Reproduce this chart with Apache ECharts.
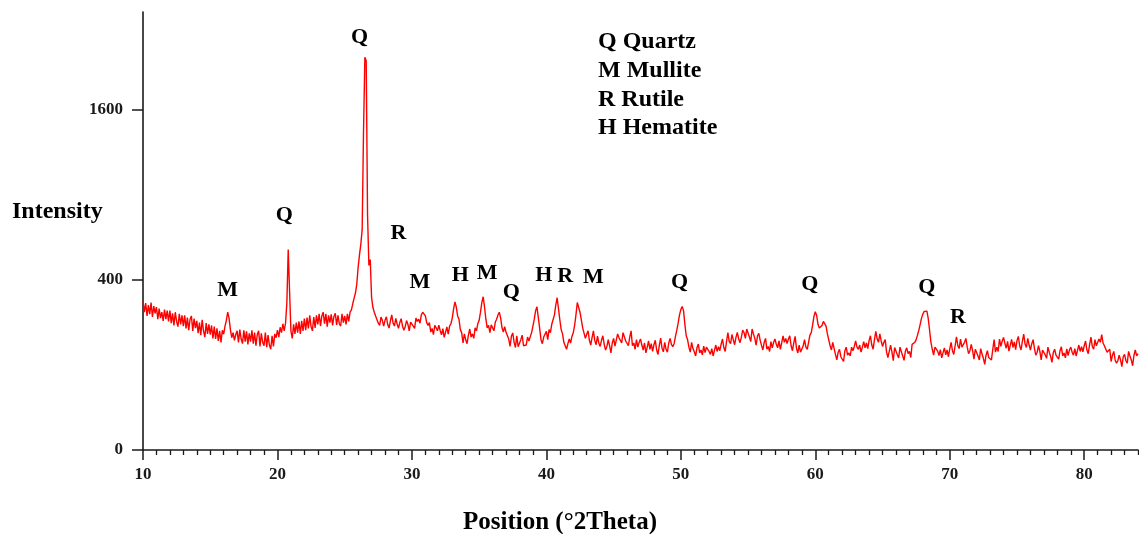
<!DOCTYPE html>
<html><head><meta charset="utf-8">
<script src="https://cdn.jsdelivr.net/npm/echarts@6/dist/echarts.min.js"></script>
<style>html,body{margin:0;padding:0;background:#fff}#c{width:1139px;height:534px}</style>
</head><body><div id="c"></div>
<script>
// XRD scan: start angle and step (degrees 2Theta)
const scanStart = 10.0;
const scanStep = 0.1;
// Intensity counts, one row per degree (10.0 ... 83.9), then 84.0
const counts = [
305,262,298,248,290,255,300,244,286,258,
282,236,276,240,262,230,272,236,268,228,
268,222,258,214,262,228,210,256,218,250,
212,250,204,242,198,236,248,196,238,205,
230,188,224,182,234,196,176,222,186,218,
184,214,172,210,170,204,164,196,160,198,
185,212,232,262,240,200,174,190,166,184,
196,160,200,170,156,198,162,194,154,188,
162,198,156,190,150,184,196,148,188,160,
150,190,146,182,152,140,180,148,186,174,
198,176,208,190,220,196,222,300,554,350,
196,172,218,186,224,190,228,186,230,196,
238,198,242,204,250,210,196,244,206,250,
218,256,212,248,262,220,256,210,250,224,
254,214,246,258,216,250,220,212,256,224,
248,218,256,228,262,271,295,318,340,380,
460,525,585,670,1400,2127,2090,760,470,500,
320,280,262,248,246,222,214,244,232,212,
232,245,217,205,230,252,222,212,239,219,
204,224,238,212,198,210,231,218,196,226,
232,212,204,240,228,236,222,252,262,266,
248,224,214,224,192,204,184,214,206,196,
215,197,183,203,175,191,209,185,212,220,
240,275,303,282,248,236,200,190,158,186,
168,156,182,202,176,186,172,206,196,220,
232,262,300,324,282,236,206,214,190,216,
210,196,226,236,252,262,240,206,192,210,
191,196,170,148,179,189,160,145,180,147,
148,168,182,150,146,152,176,164,160,190,
212,236,268,283,242,204,168,156,176,170,
194,168,200,190,218,222,252,290,320,276,
234,200,186,160,164,140,156,170,158,178,
190,214,252,300,308,262,234,206,200,172,
185,196,166,152,175,196,165,153,179,158,
148,166,180,154,138,148,168,150,130,158,
172,149,146,186,174,166,158,190,192,164,
166,150,176,196,150,158,140,168,146,160,
170,152,138,158,130,146,164,140,156,134,
153,166,138,126,151,173,143,133,160,140,
132,158,172,154,147,156,178,198,222,252,
272,284,268,218,180,168,146,132,160,142,
133,122,144,155,130,138,125,149,131,146,
149,134,126,142,122,137,152,134,147,136,
155,170,144,134,163,190,162,156,184,168,
153,175,191,171,159,175,198,190,172,202,
199,176,162,202,186,172,152,180,188,166,
151,138,160,172,140,148,134,162,144,160,
170,154,144,164,140,158,180,160,172,156,
170,180,150,136,158,178,143,130,152,132,
134,150,168,146,140,160,182,190,215,246,
264,250,218,205,200,214,228,222,212,186,
180,150,138,160,142,126,112,132,140,120,
122,108,136,146,124,130,122,146,136,148,
164,146,140,152,132,146,162,144,158,142,
165,180,152,140,168,194,170,160,186,164,
148,160,168,132,118,134,152,132,110,145,
141,125,117,146,133,122,111,135,144,128,
134,118,154,154,160,168,182,198,218,240,
255,265,272,266,238,198,160,140,124,146,
149,135,123,139,117,130,144,125,138,120,
141,160,136,126,150,177,150,142,170,146,
143,160,172,146,128,136,154,136,114,140,
139,122,112,142,127,116,101,124,136,118,
122,112,140,168,132,146,134,170,148,164,
175,157,143,163,135,151,169,145,161,139,
165,178,150,138,163,185,155,145,172,152,
138,156,168,142,124,132,150,134,112,138,
141,125,116,146,132,121,106,131,140,124,
125,114,136,147,122,130,117,141,123,138,
146,132,124,142,122,137,152,134,147,133,
150,164,138,128,153,176,148,140,168,150,
152,170,160,184,158,150,146,132,128,140,
108,124,134,112,104,110,124,112,96,120,
126,110,104,134,122,112,98,124,138,122,
128
];
const xTickLabels = [10, 20, 30, 40, 50, 60, 70, 80];
const yTickLabels = [0, 400, 1600];
// phase annotations: peak angle, phase letter, label level (counts)
const peakTheta = [16.3, 20.5, 26.1, 29.0, 30.6, 33.6, 35.6, 37.4, 39.8, 41.4, 43.5, 49.9, 59.6, 68.3, 70.6];
const peakPhase = ['M', 'Q', 'Q', 'R', 'M', 'H', 'M', 'Q', 'H', 'R', 'M', 'Q', 'Q', 'Q', 'R'];
const peakLabelLevel = [359, 771, 2372, 658, 395, 429, 443, 354, 429, 424, 419, 395, 386, 372, 252];
const phaseNames = ['Q Quartz', 'M Mullite', 'R Rutile', 'H Hematite'];

const FONT = '"Liberation Serif","Times New Roman",serif';
const AX = '#1a1a1a';
const chart = echarts.init(document.getElementById('c'));
const lineData = counts.map((c, i) => [+(scanStart + i * scanStep).toFixed(2), Math.sqrt(c)]);
const minorTicks = [];
for (let v = 10; v <= 84; v++) if (v % 10 !== 0) minorTicks.push(v);
const labelData = peakTheta.map((t, i) => [t, Math.sqrt(peakLabelLevel[i]), peakPhase[i]]);

const option = {
  animation: false,
  backgroundColor: '#fff',
  grid: { left: 143, right: 1, top: 12, bottom: 84 },
  xAxis: [
    {
      type: 'value', min: 10, max: 84, position: 'bottom',
      axisLine: { show: true, lineStyle: { color: AX, width: 1.6 } },
      axisTick: { show: true, customValues: xTickLabels, length: 10, lineStyle: { color: AX, width: 1.5 } },
      axisLabel: { customValues: xTickLabels, margin: 16, fontFamily: FONT, fontWeight: 'bold', fontSize: 17, color: AX },
      splitLine: { show: false }
    },
    {
      type: 'value', min: 10, max: 84, position: 'bottom',
      axisLine: { show: false },
      axisTick: { show: true, customValues: minorTicks, length: 5, lineStyle: { color: AX, width: 1.3 } },
      axisLabel: { show: false },
      splitLine: { show: false }
    }
  ],
  yAxis: {
    type: 'value', min: 0, max: 51.45,
    axisLine: { show: true, lineStyle: { color: AX, width: 1.6 } },
    axisTick: { show: true, customValues: yTickLabels.map(Math.sqrt), length: 11, lineStyle: { color: AX, width: 1.5 } },
    axisLabel: { customValues: yTickLabels.map(Math.sqrt), formatter: v => String(Math.round(v * v)), margin: 20, fontFamily: FONT, fontWeight: 'bold', fontSize: 17, color: AX },
    splitLine: { show: false }
  },
  series: [
    {
      type: 'line', data: lineData, xAxisIndex: 0, symbol: 'none', showSymbol: false,
      lineStyle: { color: '#ff0000', width: 1.4 }, z: 2
    },
    {
      type: 'scatter', data: labelData, xAxisIndex: 0, symbol: 'circle', symbolSize: 0,
      itemStyle: { color: '#000', opacity: 1 },
      label: { show: true, position: 'inside', offset: [0, 2], formatter: p => p.data[2], fontFamily: FONT, fontWeight: 'bold', fontSize: 22, color: '#000', textBorderWidth: 0, opacity: 1 },
      emphasis: { disabled: true },
      z: 3
    }
  ],
  graphic: [
    { type: 'text', x: 12, y: 212, style: { text: 'Intensity', font: 'bold 24px ' + FONT, fill: '#000', align: 'left', verticalAlign: 'middle' } },
    { type: 'text', x: 560, y: 523, style: { text: 'Position (°2Theta)', font: 'bold 25px ' + FONT, fill: '#000', align: 'center', verticalAlign: 'middle' } }
  ].concat(phaseNames.map((n, i) => ({
    type: 'text', x: 598, y: 42 + i * 28.7,
    style: { text: n, font: 'bold 24px ' + FONT, fill: '#000', align: 'left', verticalAlign: 'middle' }
  })))
};
chart.setOption(option);
</script>
</body></html>
